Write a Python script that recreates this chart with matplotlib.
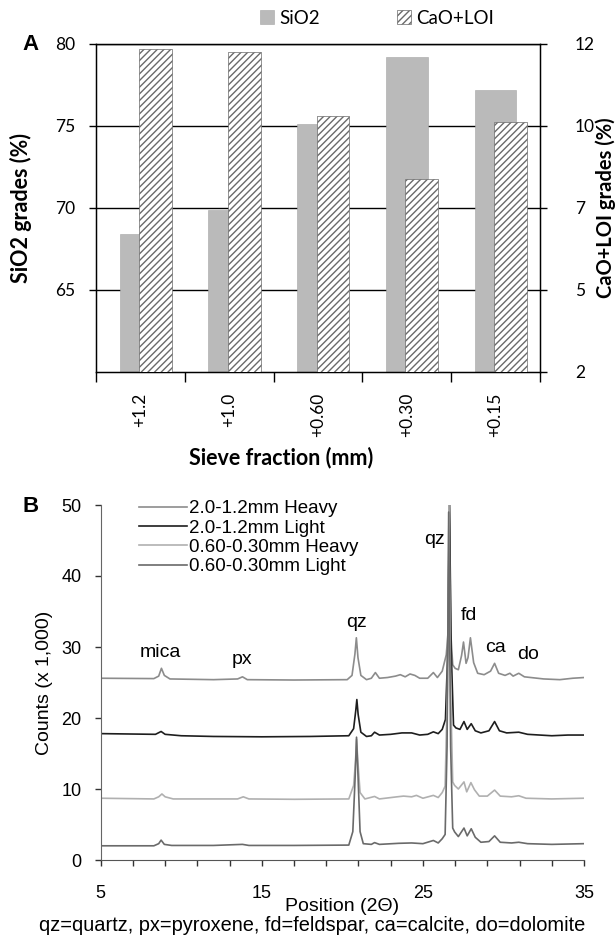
import numpy as np
import matplotlib
matplotlib.use("Agg")
import matplotlib.pyplot as plt
from matplotlib.patches import Patch

# ---------------- data: panel A ----------------
fractions = ["+1.2", "+1.0", "+0.60", "+0.30", "+0.15"]
sio2 = [68.4, 69.9, 75.1, 79.2, 77.2]
cao_loi = [11.85, 11.75, 9.8, 7.87, 9.63]
left_ticks = [65, 70, 75, 80]
right_ticks = [2, 4.5, 7, 9.5, 12]
right_labels = ["2", "5", "7", "10", "12"]

# ---------------- data: panel B ----------------
h12_x = [5.0, 8.3, 8.6, 8.77, 8.95, 9.3, 12.0, 13.5, 13.8, 14.1, 17.0, 20.3, 20.6, 20.78, 20.87, 20.97,
         21.15, 21.5, 21.8, 22.05, 22.3, 22.8, 23.3, 23.6, 23.9, 24.2, 24.5, 24.8, 25.3, 25.65, 25.9,
         26.2, 26.45, 26.56, 26.64, 26.73, 26.85, 27.0, 27.2, 27.4, 27.52, 27.68, 27.8, 27.95, 28.15,
         28.4, 28.8, 29.2, 29.45, 29.7, 30.1, 30.4, 30.6, 30.95, 31.3, 32.5, 33.5, 34.3, 35.0]
h12_y = [25.6, 25.55, 25.9, 27.0, 26.0, 25.5, 25.4, 25.5, 25.8, 25.4, 25.35, 25.4, 26.0, 29.0, 31.3, 28.5,
         26.0, 25.4, 25.6, 26.4, 25.6, 25.7, 25.9, 26.1, 25.8, 26.2, 26.0, 25.6, 25.6, 26.4, 25.7,
         26.6, 28.9, 32.0, 50.5, 32.0, 27.5, 27.0, 26.8, 28.8, 30.7, 27.7, 28.5, 31.3, 27.8,
         26.3, 26.1, 26.6, 27.7, 26.3, 26.0, 26.3, 25.9, 26.3, 25.8, 25.5, 25.4, 25.6, 25.7]

l12_x = [5.0, 8.4, 8.75, 9.0, 10.0, 12.0, 15.0, 18.0, 20.4, 20.7, 20.83, 20.9, 20.98, 21.15, 21.5, 21.8,
         22.0, 22.3, 23.0, 23.7, 24.3, 24.8, 25.3, 25.65, 25.95, 26.2, 26.4, 26.55, 26.65, 26.75, 26.9,
         27.05, 27.3, 27.55, 27.75, 28.0, 28.25, 28.6, 29.1, 29.45, 29.75, 30.2, 30.95, 31.5, 33.0, 34.0, 35.0]
l12_y = [17.8, 17.7, 18.1, 17.7, 17.5, 17.4, 17.35, 17.4, 17.5, 18.5, 21.0, 22.6, 20.5, 18.0, 17.4, 17.5,
         18.0, 17.6, 17.7, 17.9, 17.9, 17.6, 17.7, 18.05, 17.8, 18.4, 19.8, 30.0, 50.5, 30.0, 19.0,
         18.6, 18.4, 19.5, 18.4, 19.2, 18.2, 17.9, 18.2, 19.5, 18.2, 17.9, 18.0, 17.7, 17.5, 17.6, 17.6]

h06_x = [5.0, 8.3, 8.6, 8.8, 9.0, 9.5, 12.0, 13.5, 13.85, 14.2, 17.0, 20.4, 20.7, 20.82, 20.88, 20.96,
         21.1, 21.4, 22.0, 22.3, 23.4, 23.8, 24.3, 24.6, 25.0, 25.65, 25.95, 26.2, 26.38, 26.52, 26.62,
         26.72, 26.85, 26.97, 27.2, 27.55, 27.72, 27.98, 28.2, 28.5, 29.0, 29.45, 29.8, 30.5, 30.95,
         31.4, 33.0, 35.0]
h06_y = [8.7, 8.6, 8.9, 9.3, 8.9, 8.6, 8.6, 8.6, 8.9, 8.6, 8.55, 8.6, 10.5, 14.0, 17.0, 14.0,
         9.5, 8.6, 8.95, 8.6, 8.9, 9.0, 8.9, 9.1, 8.7, 9.1, 8.8, 9.5, 10.4, 24.0, 50.0,
         24.0, 11.0, 10.5, 10.0, 11.0, 9.6, 10.9, 9.9, 9.0, 9.0, 9.85, 9.0, 8.9, 9.05,
         8.7, 8.6, 8.7]

l06_x = [5.0, 8.3, 8.6, 8.75, 8.95, 9.4, 12.0, 13.8, 14.2, 17.0, 20.4, 20.65, 20.8, 20.88, 20.97, 21.1,
         21.3, 21.8, 22.0, 22.3, 23.5, 24.3, 25.0, 25.65, 25.95, 26.2, 26.38, 26.5, 26.6, 26.72, 26.85,
         26.97, 27.2, 27.55, 27.75, 28.0, 28.25, 28.6, 29.1, 29.45, 29.8, 30.5, 30.95, 31.5, 33.0, 35.0]
l06_y = [2.0, 2.0, 2.3, 2.8, 2.2, 2.05, 2.05, 2.2, 2.05, 2.05, 2.1, 4.0, 12.0, 17.3, 12.0, 4.0,
         2.3, 2.2, 2.45, 2.2, 2.35, 2.4, 2.3, 2.75, 2.4, 3.0, 3.6, 16.0, 49.0, 16.0, 4.5,
         3.95, 3.3, 4.5, 3.4, 4.4, 3.2, 2.5, 2.6, 3.4, 2.5, 2.4, 2.5, 2.3, 2.2, 2.3]

series_names = ["2.0-1.2mm Heavy", "2.0-1.2mm Light", "0.60-0.30mm Heavy", "0.60-0.30mm Light"]

peak_labels = ["mica", "px", "qz", "qz", "fd", "ca", "do"]
peak_label_x = [8.7, 13.8, 20.9, 25.7, 27.85, 29.5, 31.5]
peak_label_y = [29.2, 28.3, 33.5, 45.1, 34.4, 29.9, 28.9]

# ---------------- figure ----------------
W, H = 616, 947
fig = plt.figure(figsize=(W / 100, H / 100), dpi=100)
calibri = ["Lato", "DejaVu Sans"]
arial = ["Liberation Sans", "DejaVu Sans"]

# Panel A
axL = fig.add_axes([96 / W, 1 - 372 / H, 444 / W, 328 / H])
x = np.arange(len(fractions))
axL.set_axisbelow(True)
axL.bar(x, sio2, width=0.47, color="#bababa", edgecolor="#a5a5a5", linewidth=0.4, zorder=2)
axL.set_ylim(60, 80)
axL.set_xlim(-0.5, len(fractions) - 0.5)
axL.set_yticks(left_ticks)
axL.set_yticklabels([str(t) for t in left_ticks], family=calibri, fontsize=12.5)
axL.yaxis.grid(True, color="black", linewidth=1.0)
axL.set_xticks(x)
axL.set_xticklabels(fractions, rotation=90, family=calibri, fontsize=12.5)
axL.tick_params(axis="x", which="major", length=0, pad=15)
axL.set_xticks(np.arange(-0.5, len(fractions)), minor=True)
axL.tick_params(axis="x", which="minor", length=7, width=1, direction="out")
axL.tick_params(axis="y", length=5, width=1, direction="out", pad=10)
for s in axL.spines.values():
    s.set_linewidth(1.0)
axL.set_ylabel("SiO2 grades (%)", family=calibri, fontsize=15.5, fontweight="bold")
axL.yaxis.set_label_coords((32 - 96) / 444, 0.5)

axR = axL.twinx()
axR.bar(x + 0.169, cao_loi, width=0.37, facecolor="white", edgecolor="#6a6a6a",
        hatch="/////", linewidth=0.5, zorder=3)
axR.set_ylim(2, 12)
axR.set_yticks(right_ticks)
axR.set_yticklabels(right_labels, family=calibri, fontsize=12.5)
axR.tick_params(axis="y", length=5, width=1, direction="out", pad=20)
axR.set_ylabel("CaO+LOI grades (%)", family=calibri, fontsize=14.5, fontweight="bold")
axR.yaxis.set_label_coords((595 - 96) / 444, 0.5)

fig.text(281 / W, 1 - 458 / H, "Sieve fraction (mm)", family=calibri, fontsize=15.5,
         fontweight="bold", ha="center", va="center")
fig.text(22 / W, 1 - 45 / H, "A", family=arial, fontsize=16, fontweight="bold", ha="left", va="center")

handles = [Patch(facecolor="#bababa", edgecolor="#a5a5a5", linewidth=0.4),
           Patch(facecolor="white", edgecolor="#6a6a6a", hatch="/////", linewidth=0.5)]
fig.legend(handles, ["SiO2", "CaO+LOI"], loc="center", bbox_to_anchor=(377 / W, 1 - 18 / H),
           ncol=2, frameon=False, prop={"family": calibri, "size": 13.5},
           handlelength=0.75, handleheight=0.75, handletextpad=0.3, columnspacing=4.1)

# Panel B
axB = fig.add_axes([100.7 / W, 1 - 860 / H, (584 - 100.7) / W, 355 / H])
colors = ["#8c8c8c", "#1e1e1e", "#b0b0b0", "#6a6a6a"]
for xs, ys, c, name in [(h12_x, h12_y, colors[0], series_names[0]),
                        (l12_x, l12_y, colors[1], series_names[1]),
                        (h06_x, h06_y, colors[2], series_names[2]),
                        (l06_x, l06_y, colors[3], series_names[3])]:
    axB.plot(xs, ys, color=c, linewidth=1.2, label=name)
axB.set_xlim(5, 35)
axB.set_ylim(0, 50)
axB.spines["top"].set_visible(False)
axB.spines["right"].set_visible(False)
axB.spines["left"].set_color("#666666")
axB.spines["bottom"].set_color("#555555")
axB.set_xticks(np.arange(5, 36, 2))
axB.set_xticklabels([str(v) if v in (5, 15, 25, 35) else "" for v in range(5, 36, 2)],
                    family=arial, fontsize=13)
axB.set_yticks([0, 10, 20, 30, 40, 50])
axB.set_yticklabels(["0", "10", "20", "30", "40", "50"], family=arial, fontsize=13)
axB.tick_params(axis="both", length=4, width=1, direction="out", colors="#333333", labelcolor="black")
axB.tick_params(axis="x", pad=14)
axB.tick_params(axis="y", pad=10)
axB.set_xlabel("Position (2\u0398)", family=arial, fontsize=14, labelpad=-3)
axB.set_ylabel("Counts (x 1,000)", family=arial, fontsize=14, labelpad=6)
for lab, lx, ly in zip(peak_labels, peak_label_x, peak_label_y):
    axB.text(lx, ly, lab, family=arial, fontsize=14, ha="center", va="center")
axB.legend(loc="upper left", bbox_to_anchor=(0.063, 1.035), frameon=False,
           prop={"family": arial, "size": 13.5}, handlelength=2.6, handletextpad=0.1,
           labelspacing=0.12, borderaxespad=0)
fig.text(22 / W, 1 - 506 / H, "B", family=arial, fontsize=16, fontweight="bold", ha="left", va="center")
fig.text(312 / W, 1 - 925 / H, "qz=quartz, px=pyroxene, fd=feldspar, ca=calcite, do=dolomite",
         family=arial, fontsize=14.4, ha="center", va="center")

fig.savefig("out.png", dpi=100)
